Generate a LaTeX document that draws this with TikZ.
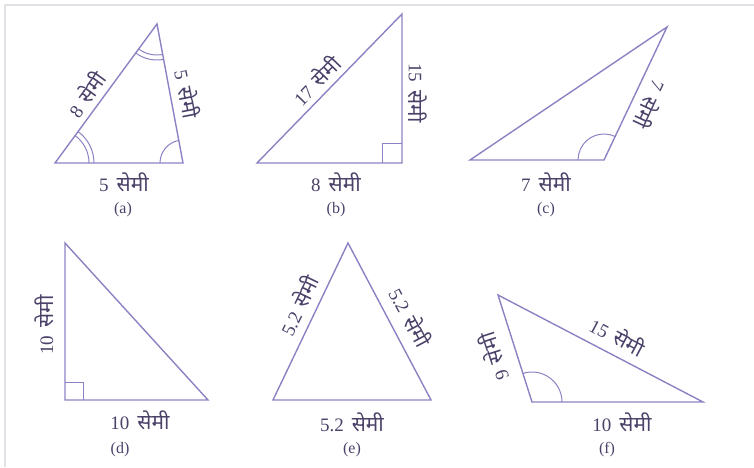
\documentclass[tikz,border=0pt]{standalone}
\usepackage{fontspec}
\setmainfont{Liberation Serif}
\newfontfamily\hindi[Script=Devanagari,Scale=1.1]{Noto Sans}
\usetikzlibrary{angles}
\newcommand{\smi}{\hspace{8pt}{\hindi सेमी}}
\definecolor{edgecol}{RGB}{140,130,195}
\definecolor{textcol}{RGB}{75,65,105}
\definecolor{framecol}{RGB}{225,225,230}

\begin{document}
\begin{tikzpicture}[x=1pt,y=1pt,
    tri/.style={draw=edgecol,line width=1.4pt},
    anglemark/.style={draw=edgecol,line width=1pt},
    lbl/.style={text=textcol,font=\fontsize{19}{21}\selectfont,inner sep=0pt},
    tag/.style={text=textcol,font=\fontsize{16}{18}\selectfont,inner sep=0pt}]
    \useasboundingbox (0,0) rectangle (754,467);
    \draw[framecol,line width=1.5pt] (5,0) -- (5,462) -- (754,462);

    % (a)
    \coordinate (A1) at (55,304);
    \coordinate (B1) at (183,304);
    \coordinate (C1) at (157,443);
    \draw[tri] (A1)--(B1)--(C1)--cycle;
    \pic[anglemark,angle radius=34pt]{angle=B1--A1--C1};
    \pic[anglemark,angle radius=39pt]{angle=B1--A1--C1};
    \pic[anglemark,angle radius=31pt]{angle=A1--C1--B1};
    \pic[anglemark,angle radius=36pt]{angle=A1--C1--B1};
    \pic[anglemark,angle radius=23pt]{angle=C1--B1--A1};
    \node[lbl,rotate=54] (a-left) at (86,373) {8\smi};
    \node[lbl,rotate=-79] (a-right) at (188,373) {5\smi};
    \node[lbl] (a-base) at (124,285) {5\smi};
    \node[tag] (a-name) at (123,257) {(a)};

    % (b)
    \coordinate (A2) at (257,304);
    \coordinate (B2) at (402,304);
    \coordinate (C2) at (402,453);
    \draw[tri] (A2)--(B2)--(C2)--cycle;
    \pic[anglemark,angle radius=20pt]{right angle=A2--B2--C2};
    \node[lbl,rotate=46] (b-hyp) at (316,387) {17\smi};
    \node[lbl,rotate=-90] (b-right) at (418,374) {15\smi};
    \node[lbl] (b-base) at (336,285) {8\smi};
    \node[tag] (b-name) at (336,257) {(b)};

    % (c)
    \coordinate (A3) at (470,307);
    \coordinate (B3) at (604,307);
    \coordinate (C3) at (667,440);
    \draw[tri] (A3)--(B3)--(C3)--cycle;
    \pic[anglemark,angle radius=26pt]{angle=C3--B3--A3};
    \node[lbl,rotate=-115] (c-right) at (651,362) {7\smi};
    \node[lbl] (c-base) at (546,285) {7\smi};
    \node[tag] (c-name) at (546,257) {(c)};

    % (d)
    \coordinate (A4) at (65,224);
    \coordinate (B4) at (65,67);
    \coordinate (C4) at (208,67);
    \draw[tri] (A4)--(B4)--(C4)--cycle;
    \pic[anglemark,angle radius=18pt]{right angle=C4--B4--A4};
    \node[lbl,rotate=90] (d-left) at (44,142) {10\smi};
    \node[lbl] (d-base) at (140,47) {10\smi};
    \node[tag] (d-name) at (120,17) {(d)};

    % (e)
    \coordinate (A5) at (348,224);
    \coordinate (B5) at (273,67);
    \coordinate (C5) at (431,67);
    \draw[tri] (A5)--(B5)--(C5)--cycle;
    \node[lbl,rotate=64] (e-left) at (298,162) {5.2\smi};
    \node[lbl,rotate=-62] (e-right) at (411,150) {5.2\smi};
    \node[lbl] (e-base) at (352,45) {5.2\smi};
    \node[tag] (e-name) at (352,17) {(e)};

    % (f)
    \coordinate (A6) at (498,172);
    \coordinate (B6) at (532,65);
    \coordinate (C6) at (703,65);
    \draw[tri] (A6)--(B6)--(C6)--cycle;
    \pic[anglemark,angle radius=30pt]{angle=C6--B6--A6};
    \node[lbl,rotate=-28] (f-hyp) at (618,131) {15\smi};
    \node[lbl,rotate=108] (f-left) at (493,110) {9\smi};
    \node[lbl] (f-base) at (622,45) {10\smi};
    \node[tag] (f-name) at (607,17) {(f)};
\end{tikzpicture}
\end{document}
